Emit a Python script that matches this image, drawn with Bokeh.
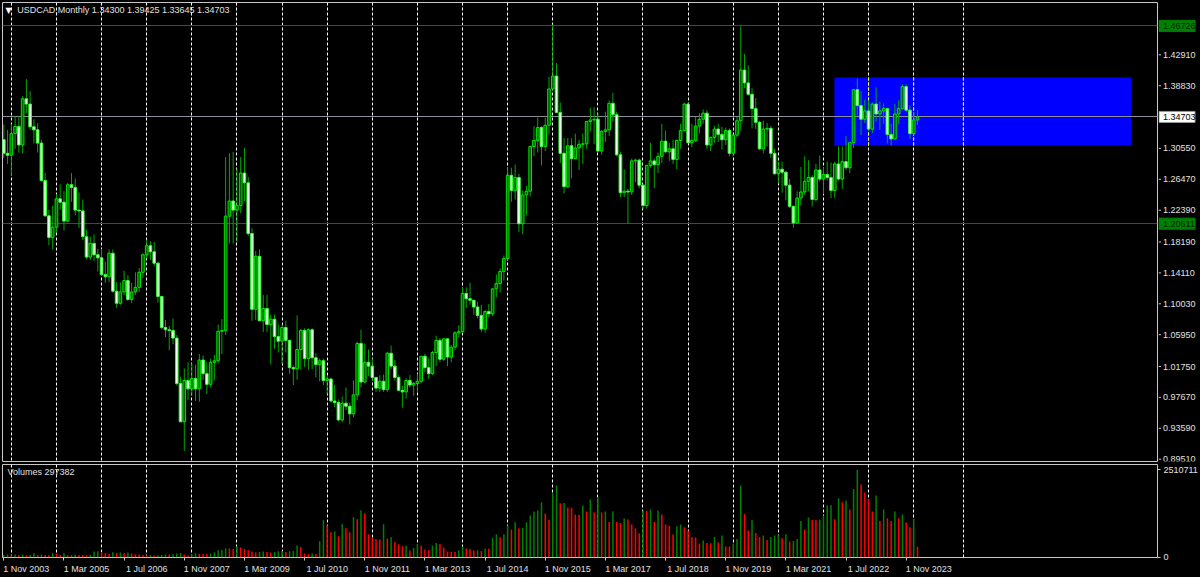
from bokeh.plotting import figure
from bokeh.layouts import column, row
from bokeh.models import (Range1d, FixedTicker, NumeralTickFormatter, Label,
                          ColumnDataSource, GlobalInlineStyleSheet)
from bokeh.core.properties import value
from bokeh.embed import file_html
from bokeh.resources import INLINE

# ---------------- DATA (monthly bars, first bar = Nov 2003, last = Feb 2024) ----------------
opens = [
    1.3170, 1.2990,
    1.2965, 1.3250, 1.3345, 1.3100, 1.3710, 1.3640, 1.3340, 1.3300, 1.3125, 1.2630, 1.2165, 1.1880,
    1.2015, 1.2390, 1.2345, 1.2095, 1.2575, 1.2540, 1.2240, 1.2230, 1.1890, 1.1620, 1.1800, 1.1650,
    1.1610, 1.1390, 1.1360, 1.1670, 1.1170, 1.1010, 1.1160, 1.1310, 1.1060, 1.1160, 1.1220, 1.1420,
    1.1650, 1.1770, 1.1690, 1.1540, 1.1100, 1.0690, 1.0660, 1.0650, 1.0550, 0.9950, 0.9445, 0.9990,
    0.9880, 1.0015, 0.9880, 1.0260, 1.0080, 0.9940, 1.0230, 1.0250, 1.0640, 1.0650, 1.2160, 1.2360,
    1.2240, 1.2300, 1.2730, 1.2600, 1.1930, 1.0930, 1.1630, 1.0780, 1.0940, 1.0730, 1.0800, 1.0570,
    1.0510, 1.0690, 1.0520, 1.0160, 1.0145, 1.0400, 1.0650, 1.0280, 1.0660, 1.0290, 1.0200, 1.0250,
    0.9990, 1.0010, 0.9720, 0.9700, 0.9470, 0.9690, 0.9650, 0.9550, 0.9800, 1.0480, 0.9970, 1.0230,
    1.0180, 1.0030, 0.9890, 0.9980, 0.9870, 1.0350, 1.0180, 1.0030, 0.9860, 0.9840, 0.9990, 0.9930,
    0.9950, 0.9980, 1.0310, 1.0160, 1.0080, 1.0360, 1.0520, 1.0270, 1.0540, 1.0300, 1.0430, 1.0620,
    1.0635, 1.1140, 1.1070, 1.1050, 1.0960, 1.0850, 1.0670, 1.0900, 1.0870, 1.1200, 1.1270, 1.1430,
    1.1600, 1.2700, 1.2500, 1.2670, 1.2060, 1.2440, 1.2490, 1.3080, 1.3160, 1.3330, 1.3080, 1.3360,
    1.3840, 1.4010, 1.3530, 1.2990, 1.2550, 1.3090, 1.2920, 1.3060, 1.3110, 1.3115, 1.3410, 1.3430,
    1.3440, 1.3020, 1.3280, 1.3300, 1.3650, 1.3500, 1.2970, 1.2470, 1.2490, 1.2480, 1.2890, 1.2900,
    1.2570, 1.2300, 1.2830, 1.2890, 1.2840, 1.2950, 1.3150, 1.3010, 1.3050, 1.2910, 1.3160, 1.3290,
    1.3640, 1.3130, 1.3160, 1.3350, 1.3440, 1.3520, 1.3100, 1.3200, 1.3310, 1.3240, 1.3170, 1.3290,
    1.2990, 1.3230, 1.3420, 1.4090, 1.3920, 1.3770, 1.3580, 1.3400, 1.3050, 1.3310, 1.3320, 1.2990,
    1.2720, 1.2780, 1.2740, 1.2570, 1.2290, 1.2070, 1.2400, 1.2480, 1.2620, 1.2670, 1.2380, 1.2770,
    1.2650, 1.2710, 1.2670, 1.2500, 1.2850, 1.2650, 1.2880, 1.2800, 1.3130, 1.3830, 1.3620, 1.3440,
    1.3550, 1.3310, 1.3640, 1.3510, 1.3550, 1.3580, 1.3240, 1.3180, 1.3510, 1.3580, 1.3870, 1.3560,
    1.3250, 1.3430,
]
highs = [
    1.3370, 1.3300,
    1.3380, 1.3480, 1.3480, 1.3745, 1.3970, 1.3810, 1.3440, 1.3390, 1.3170, 1.2730, 1.2245, 1.2300,
    1.2450, 1.2580, 1.2490, 1.2600, 1.2730, 1.2660, 1.2475, 1.2380, 1.1980, 1.1890, 1.1920, 1.1730,
    1.1730, 1.1560, 1.1720, 1.1720, 1.1290, 1.1285, 1.1440, 1.1380, 1.1280, 1.1420, 1.1475, 1.1670,
    1.1850, 1.1830, 1.1820, 1.1560, 1.1110, 1.0790, 1.0710, 1.0810, 1.0590, 1.0040, 1.0150, 1.0230,
    1.0220, 1.0200, 1.0340, 1.0320, 1.0240, 1.0280, 1.0330, 1.0730, 1.0800, 1.2940, 1.2990, 1.3010,
    1.2790, 1.2940, 1.3065, 1.2680, 1.2000, 1.1700, 1.1720, 1.1120, 1.1120, 1.0860, 1.0860, 1.0730,
    1.0730, 1.0780, 1.0530, 1.0190, 1.0850, 1.0670, 1.0680, 1.0680, 1.0680, 1.0350, 1.0280, 1.0280,
    1.0050, 1.0030, 0.9930, 0.9740, 0.9780, 0.9900, 0.9700, 0.9990, 1.0500, 1.0660, 1.0480, 1.0400,
    1.0280, 1.0040, 1.0060, 1.0070, 1.0370, 1.0450, 1.0260, 1.0060, 0.9920, 1.0020, 1.0060, 0.9970,
    1.0080, 1.0310, 1.0340, 1.0280, 1.0380, 1.0580, 1.0550, 1.0550, 1.0540, 1.0460, 1.0640, 1.0720,
    1.1220, 1.1220, 1.1280, 1.1050, 1.1030, 1.0990, 1.0920, 1.1000, 1.1210, 1.1390, 1.1470, 1.1640,
    1.2800, 1.2800, 1.2840, 1.2720, 1.2500, 1.2560, 1.3090, 1.3350, 1.3460, 1.3350, 1.3460, 1.4000,
    1.4690, 1.4180, 1.3660, 1.3190, 1.3190, 1.3190, 1.3250, 1.3170, 1.3250, 1.3410, 1.3590, 1.3600,
    1.3520, 1.3300, 1.3540, 1.3690, 1.3790, 1.3540, 1.3010, 1.2780, 1.2520, 1.2920, 1.2920, 1.2920,
    1.2590, 1.2840, 1.3130, 1.2920, 1.3000, 1.3380, 1.3290, 1.3130, 1.3170, 1.3170, 1.3380, 1.3660,
    1.3660, 1.3380, 1.3470, 1.3520, 1.3570, 1.3560, 1.3210, 1.3350, 1.3380, 1.3340, 1.3330, 1.3320,
    1.3240, 1.3470, 1.4667, 1.4300, 1.4150, 1.3850, 1.3720, 1.3420, 1.3420, 1.3390, 1.3350, 1.3050,
    1.2880, 1.2880, 1.2760, 1.2650, 1.2300, 1.2490, 1.2810, 1.2950, 1.2900, 1.2700, 1.2850, 1.2960,
    1.2800, 1.2880, 1.2870, 1.2880, 1.3080, 1.3080, 1.3220, 1.3140, 1.3840, 1.3977, 1.3810, 1.3700,
    1.3690, 1.3660, 1.3860, 1.3670, 1.3650, 1.3590, 1.3380, 1.3640, 1.3690, 1.3900, 1.3900, 1.3620,
    1.3540, 1.3560,
]
lows = [
    1.2930, 1.2850,
    1.2690, 1.3050, 1.3000, 1.2990, 1.3520, 1.3300, 1.3120, 1.3000, 1.2620, 1.2155, 1.1775, 1.1720,
    1.1950, 1.2250, 1.1970, 1.2075, 1.2350, 1.2170, 1.2005, 1.1845, 1.1590, 1.1580, 1.1570, 1.1430,
    1.1370, 1.1280, 1.1290, 1.1150, 1.0950, 1.0990, 1.1120, 1.1040, 1.1010, 1.1120, 1.1160, 1.1340,
    1.1600, 1.1580, 1.1500, 1.1020, 1.0665, 1.0565, 1.0390, 1.0470, 0.9925, 0.9440, 0.9060, 0.9730,
    0.9790, 0.9720, 0.9710, 1.0000, 0.9810, 0.9900, 0.9990, 1.0220, 1.0340, 1.0590, 1.1800, 1.1800,
    1.1820, 1.2200, 1.2360, 1.1900, 1.0780, 1.0790, 1.0770, 1.0630, 1.0630, 1.0200, 1.0410, 1.0360,
    1.0210, 1.0360, 1.0080, 0.9930, 1.0000, 1.0130, 1.0170, 1.0130, 1.0140, 1.0030, 0.9980, 0.9930,
    0.9810, 0.9700, 0.9640, 0.9450, 0.9440, 0.9600, 0.9410, 0.9500, 0.9730, 0.9900, 0.9960, 1.0050,
    0.9990, 0.9840, 0.9840, 0.9840, 0.9840, 1.0140, 0.9990, 0.9850, 0.9630, 0.9750, 0.9900, 0.9790,
    0.9840, 0.9950, 1.0100, 1.0010, 1.0060, 1.0180, 1.0230, 1.0250, 1.0180, 1.0230, 1.0390, 1.0560,
    1.0620, 1.0950, 1.0990, 1.0860, 1.0810, 1.0630, 1.0620, 1.0830, 1.0840, 1.1090, 1.1150, 1.1310,
    1.1580, 1.2350, 1.2380, 1.1950, 1.1920, 1.2170, 1.2420, 1.2950, 1.3000, 1.2830, 1.3020, 1.3240,
    1.3830, 1.3530, 1.2860, 1.2460, 1.2530, 1.2660, 1.2910, 1.2770, 1.2850, 1.3050, 1.3280, 1.3110,
    1.3000, 1.2970, 1.3140, 1.3220, 1.3410, 1.2950, 1.2410, 1.2410, 1.2061, 1.2440, 1.2610, 1.2530,
    1.2250, 1.2260, 1.2800, 1.2530, 1.2730, 1.2860, 1.3000, 1.2890, 1.2850, 1.2780, 1.3050, 1.3280,
    1.3120, 1.3070, 1.3140, 1.3250, 1.3380, 1.3050, 1.3020, 1.3130, 1.3140, 1.3040, 1.3100, 1.2950,
    1.2950, 1.3200, 1.3290, 1.3850, 1.3750, 1.3320, 1.3310, 1.3030, 1.2990, 1.3080, 1.2930, 1.2710,
    1.2590, 1.2470, 1.2370, 1.2270, 1.2007, 1.2060, 1.2300, 1.2440, 1.2490, 1.2290, 1.2350, 1.2620,
    1.2450, 1.2630, 1.2400, 1.2400, 1.2630, 1.2520, 1.2770, 1.2730, 1.3060, 1.3490, 1.3230, 1.3390,
    1.3280, 1.3260, 1.3410, 1.3300, 1.3380, 1.3120, 1.3090, 1.3170, 1.3380, 1.3570, 1.3540, 1.3180,
    1.3230, 1.3365,
]
closes = [
    1.2990, 1.2965,
    1.3250, 1.3345, 1.3100, 1.3710, 1.3640, 1.3340, 1.3300, 1.3125, 1.2630, 1.2165, 1.1880, 1.2015,
    1.2390, 1.2345, 1.2095, 1.2575, 1.2540, 1.2240, 1.2230, 1.1890, 1.1620, 1.1800, 1.1650, 1.1610,
    1.1390, 1.1360, 1.1670, 1.1170, 1.1010, 1.1160, 1.1310, 1.1060, 1.1160, 1.1220, 1.1420, 1.1650,
    1.1770, 1.1690, 1.1540, 1.1100, 1.0690, 1.0660, 1.0650, 1.0550, 0.9950, 0.9445, 0.9990, 0.9880,
    1.0015, 0.9880, 1.0260, 1.0080, 0.9940, 1.0230, 1.0250, 1.0640, 1.0650, 1.2160, 1.2360, 1.2240,
    1.2300, 1.2730, 1.2600, 1.1930, 1.0930, 1.1630, 1.0780, 1.0940, 1.0730, 1.0800, 1.0570, 1.0510,
    1.0690, 1.0520, 1.0160, 1.0145, 1.0400, 1.0650, 1.0280, 1.0660, 1.0290, 1.0200, 1.0250, 0.9990,
    1.0010, 0.9720, 0.9700, 0.9470, 0.9690, 0.9650, 0.9550, 0.9800, 1.0480, 0.9970, 1.0230, 1.0180,
    1.0030, 0.9890, 0.9980, 0.9870, 1.0350, 1.0180, 1.0030, 0.9860, 0.9840, 0.9990, 0.9930, 0.9950,
    0.9980, 1.0310, 1.0160, 1.0080, 1.0360, 1.0520, 1.0270, 1.0540, 1.0300, 1.0430, 1.0620, 1.0635,
    1.1140, 1.1070, 1.1050, 1.0960, 1.0850, 1.0670, 1.0900, 1.0870, 1.1200, 1.1270, 1.1430, 1.1600,
    1.2700, 1.2500, 1.2670, 1.2060, 1.2440, 1.2490, 1.3080, 1.3160, 1.3330, 1.3080, 1.3360, 1.3840,
    1.4010, 1.3530, 1.2990, 1.2550, 1.3090, 1.2920, 1.3060, 1.3110, 1.3115, 1.3410, 1.3430, 1.3440,
    1.3020, 1.3280, 1.3300, 1.3650, 1.3500, 1.2970, 1.2470, 1.2490, 1.2480, 1.2890, 1.2900, 1.2570,
    1.2300, 1.2830, 1.2890, 1.2840, 1.2950, 1.3150, 1.3010, 1.3050, 1.2910, 1.3160, 1.3290, 1.3640,
    1.3130, 1.3160, 1.3350, 1.3440, 1.3520, 1.3100, 1.3200, 1.3310, 1.3240, 1.3170, 1.3290, 1.2990,
    1.3230, 1.3420, 1.4090, 1.3920, 1.3770, 1.3580, 1.3400, 1.3050, 1.3310, 1.3320, 1.2990, 1.2720,
    1.2780, 1.2740, 1.2570, 1.2290, 1.2070, 1.2400, 1.2480, 1.2620, 1.2670, 1.2380, 1.2770, 1.2650,
    1.2710, 1.2670, 1.2500, 1.2850, 1.2650, 1.2880, 1.2800, 1.3130, 1.3830, 1.3620, 1.3440, 1.3550,
    1.3310, 1.3640, 1.3510, 1.3550, 1.3580, 1.3240, 1.3180, 1.3510, 1.3580, 1.3870, 1.3560, 1.3250,
    1.3430, 1.3470,
]
volumes = [
    66100, 77700, 57500, 77700, 66100, 77700, 57500, 66100, 115000, 66100, 77700, 66100,
    57500, 115000, 106400, 66100, 123700, 57500, 66100, 77700, 66100, 66100, 57500, 66100,
    163900, 168000, 152400, 115000, 94900, 143800, 123700, 135200, 123700, 135200, 106400, 86300,
    77700, 66100, 57500, 66100, 48900, 57500, 66100, 77700, 77700, 86300, 106400, 123700,
    77700, 48900, 77700, 115000, 94900, 94900, 94900, 106400, 143800, 201300, 209900, 258800,
    250200, 238700, 316400, 279000, 238700, 201300, 163900, 135200, 152400, 163900, 152400, 135200,
    152400, 172600, 181200, 152400, 172600, 181200, 336500, 296200, 106400, 86300, 106400, 94900,
    460200, 1064100, 920300, 719000, 747800, 604000, 949100, 834000, 719000, 1150400, 1092900, 1351700,
    1265400, 661500, 560800, 517700, 512000, 949100, 532100, 575200, 431400, 373900, 316400, 336500,
    192700, 267500, 382500, 336500, 221500, 209900, 336500, 411300, 382500, 279000, 163900, 160000,
    158000, 192700, 307700, 250200, 238700, 192700, 201300, 181200, 250200, 248000, 555100, 652900,
    575200, 661500, 911700, 796700, 1006600, 834000, 840000, 1006600, 1199300, 1314300, 1343100, 1581800,
    1256800, 1072700, 1840600, 2062100, 1553000, 1560000, 1429400, 1420000, 1228100, 1220000, 1486900, 1314300,
    1659500, 1285600, 1725600, 1285600, 1314300, 1015200, 1314300, 1015200, 986500, 1113000, 1084300, 940500,
    825400, 681600, 1343100, 1335000, 1371900, 1015200, 1343100, 1228100, 940500, 900200, 652900, 882900,
    940500, 862800, 767900, 575200, 570000, 394000, 480300, 411300, 402600, 583800, 422800, 624100,
    307700, 305000, 394000, 526300, 2062100, 1245300, 767900, 1072700, 698900, 583800, 624100, 497500,
    583800, 624100, 630000, 546400, 661500, 451500, 468800, 526300, 1044000, 796700, 1141800, 1072700,
    1070000, 1080000, 1199300, 1486900, 1495000, 1092900, 1696800, 1581800, 1630700, 1371900, 1964300, 2510711,
    2090900, 1860800, 1659500, 1314300, 1774500, 1044000, 1371900, 1121600, 1044000, 1314300, 1121600, 1228100,
    998000, 862800, 1101500, 297382,
]
assert len(opens) == len(highs) == len(lows) == len(closes) == len(volumes) == 244

date_ticks = [0, 16, 32, 48, 64, 80, 96, 112, 128, 144, 160, 176, 192, 208, 224, 240]
date_labels = ["1 Nov 2003", "1 Mar 2005", "1 Jul 2006", "1 Nov 2007", "1 Mar 2009",
               "1 Jul 2010", "1 Nov 2011", "1 Mar 2013", "1 Jul 2014", "1 Nov 2015",
               "1 Mar 2017", "1 Jul 2018", "1 Nov 2019", "1 Mar 2021", "1 Jul 2022",
               "1 Nov 2023"]
year_grid = [2, 14, 26, 38, 50, 62, 74, 86, 98, 110, 122, 134, 146, 158, 170, 182,
             194, 206, 218, 230, 242, 255.2]
price_ticks = [0.8951, 0.9359, 0.9767, 1.0175, 1.0595, 1.1003, 1.1411, 1.1819,
               1.2239, 1.2647, 1.3055, 1.3883, 1.4291]
level_lines = [1.46726, 1.20611]
current_price = 1.34703
volume_ticks = [0, 2510711]
zone_start, zone_end = 220.9, 299.9
zone_low, zone_high = 1.3093, 1.3991
title_text = "USDCAD,Monthly  1.34300 1.39425 1.33645 1.34703"
volume_text = "Volumes 297382"

# ---------------- STYLE ----------------
FONT = "Liberation Sans"
TXT = "#e0e0e0"
FS = "9px"
BORDER = "#c8c8c8"
W = 1200
RB = 43          # right-hand price scale strip
LB = 2           # left border
MAIN_H = 463

x = list(range(len(closes)))
XR = Range1d(-0.35, 306.84)
YR = Range1d(0.89206, 1.49816)

# main price pane (frame only)
p = figure(width=W - RB + 1, height=MAIN_H, x_range=XR, y_range=YR,
           output_backend="svg", toolbar_location=None, x_axis_location=None,
           y_axis_location=None, background_fill_color="black",
           border_fill_color="black", min_border_left=LB, min_border_top=2,
           min_border_bottom=2, min_border_right=1, outline_line_color=BORDER)
p.grid.visible = False

# blue zone
p.quad(left=[zone_start], right=[zone_end], bottom=[zone_low], top=[zone_high],
       fill_color="#0000ff", line_color=None)
# vertical grid (white; yellow where it crosses the blue zone)
p.vspan(x=year_grid, line_color="white", line_width=1, line_dash="3 2")
inside = [g for g in year_grid if zone_start < g < zone_end]
p.segment(x0=inside, y0=[zone_low] * len(inside), x1=inside, y1=[zone_high] * len(inside),
          line_color="#ffff00", line_width=1, line_dash="3 2")
# horizontal levels
p.hspan(y=level_lines, line_color="#007800", line_width=1)
p.hspan(y=[current_price], line_color="#8c8c9a", line_width=1)

# candles
up = [c > o for o, c in zip(opens, closes)]
src_all = ColumnDataSource(dict(x=x, h=highs, l=lows))
p.segment(x0="x", y0="l", x1="x", y1="h", source=src_all, line_color="#00a800", line_width=1)


def body_src(flag):
    idx = [i for i in x if up[i] == flag]
    return ColumnDataSource(dict(
        x=idx,
        top=[max(opens[i], closes[i]) for i in idx],
        bottom=[min(opens[i], closes[i]) for i in idx]))


p.vbar(x="x", width=0.7, top="top", bottom="bottom", source=body_src(True),
       fill_color="#005800", fill_alpha=0.8, line_color="#00e800", line_width=1)
p.vbar(x="x", width=0.7, top="top", bottom="bottom", source=body_src(False),
       fill_color="#ecffec", line_color="#30ff30", line_width=1)

# title
p.add_layout(Label(x=1.25, y=1.4876, text="▼", text_font="DejaVu Sans",
                   text_font_size="8px", text_color="white", text_baseline="middle",
                   text_align="center"))
p.add_layout(Label(x=3.6, y=1.4876, text=title_text, text_font=FONT,
                   text_font_size=FS, text_color=TXT, text_baseline="middle"))

# price scale strip (shares the price scale of the main pane)
ps = figure(width=RB - 1, height=MAIN_H, x_range=Range1d(0, RB - 1), y_range=YR,
            output_backend="svg", toolbar_location=None, x_axis_location=None,
            y_axis_location=None, background_fill_color="black",
            border_fill_color="black", min_border_left=0, min_border_right=0,
            min_border_top=2, min_border_bottom=2, outline_line_color=None)
ps.grid.visible = False
ps.segment(x0=[0] * len(price_ticks), x1=[2.5] * len(price_ticks), y0=price_ticks,
           y1=price_ticks, line_color=BORDER, line_width=1)
ps.text(x=[4.5] * len(price_ticks), y=price_ticks, text=[f"{v:.5f}" for v in price_ticks],
        text_font=value(FONT), text_font_size=FS, text_color=TXT,
        text_baseline="middle", text_align="left")
tag_vals = level_lines + [current_price]
tag_fill = ["#008000", "#008000", "#ffffff"]
tag_line = ["#008000", "#008000", "#9a9a9a"]
tag_text = ["#002800", "#002800", "#000000"]
ps.rect(x=[18.5] * 3, y=tag_vals, width=[36] * 3, height=[11] * 3,
        width_units="screen", height_units="screen",
        fill_color=tag_fill, line_color=tag_line, line_width=1)
ps.text(x=[4.5] * 3, y=tag_vals, text=[f"{v:.5f}" for v in tag_vals],
        text_font=value(FONT), text_font_size=FS, text_color=tag_text,
        text_baseline="middle", text_align="left")

# ---------------- volume panel ----------------
pv = figure(width=W, height=113, x_range=XR, y_range=Range1d(-8600, 2666000),
            output_backend="svg", toolbar_location=None, y_axis_location="right",
            background_fill_color="black", border_fill_color="black",
            min_border_left=LB, min_border_top=1, min_border_bottom=19,
            min_border_right=RB, outline_line_color=BORDER)
pv.grid.visible = False
pv.vspan(x=year_grid, line_color="white", line_width=1, line_dash="3 2")

vcol = ["#008000" if (i == 0 or volumes[i] > volumes[i - 1]) else "#ff0000" for i in x]
pv.vbar(x=x, width=0.4, top=volumes, bottom=0, fill_color=vcol, line_color=None)

vy = pv.yaxis[0]
vy.ticker = FixedTicker(ticks=volume_ticks)
vy.formatter = NumeralTickFormatter(format="0")
vy.axis_line_color = None
vy.major_tick_line_color = BORDER
vy.major_tick_out = 3
vy.major_tick_in = 0
vy.minor_tick_line_color = None
vy.major_label_standoff = 3
vy.major_label_text_color = TXT
vy.major_label_text_font = FONT
vy.major_label_text_font_size = FS

# date labels start at their tick: label centred half a label-width to the right,
# small marks drawn as minor ticks at the exact dates
label_pos = [t + 6 for t in date_ticks]
vx = pv.xaxis[0]
vx.ticker = FixedTicker(ticks=label_pos, minor_ticks=date_ticks)
vx.major_label_overrides = {t: s for t, s in zip(label_pos, date_labels)}
vx.axis_line_color = None
vx.major_tick_line_color = None
vx.major_tick_out = 0
vx.major_tick_in = 0
vx.minor_tick_line_color = BORDER
vx.minor_tick_out = 3
vx.minor_tick_in = 0
vx.major_label_standoff = 3
vx.major_label_text_color = TXT
vx.major_label_text_font = FONT
vx.major_label_text_font_size = FS

pv.add_layout(Label(x=1.0, y=2440000, text=volume_text, text_font=FONT,
                    text_font_size=FS, text_color=TXT, text_baseline="middle"))

layout = column(row(p, ps, spacing=0), pv, spacing=0,
                stylesheets=[GlobalInlineStyleSheet(css="body { background-color: #000000; }")])

open("out.html", "w").write(file_html(layout, INLINE, title="USDCAD Monthly"))
